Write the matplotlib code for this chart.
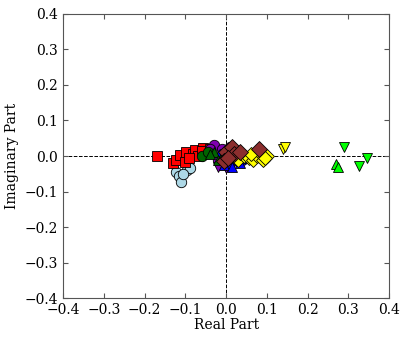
import matplotlib
matplotlib.use("Agg")
import matplotlib.pyplot as plt

plt.rcParams['font.family'] = ['DejaVu Serif']

# eigenvalue groups (real, imag)
lightblue_re = [-0.123, -0.115, -0.11, -0.096, -0.088, -0.105]
lightblue_im = [-0.045, -0.056, -0.073, -0.04, -0.034, -0.05]

red_re = [-0.17, -0.13, -0.123, -0.113, -0.10, -0.098, -0.08, -0.076, -0.069, -0.056, -0.05, -0.09, -0.06, -0.04]
red_im = [0.0, -0.02, -0.01, 0.003, -0.017, 0.011, 0.005, 0.017, 0.0, 0.023, 0.011, -0.005, 0.015, 0.02]

purple_re = [-0.03, -0.01, 0.0, -0.02, 0.01, -0.04]
purple_im = [0.03, 0.02, 0.01, -0.01, 0.025, 0.02]
purple_tri_re = [-0.02, -0.01, 0.0]
purple_tri_im = [-0.03, -0.02, -0.035]

blue_re = [0.0, 0.01, 0.02, 0.03, 0.04, 0.05, -0.01, 0.02]
blue_im = [-0.01, -0.02, 0.0, -0.015, -0.01, -0.005, 0.005, 0.015]
blue_tri_re = [-0.005, 0.015, 0.035]
blue_tri_im = [-0.025, -0.03, -0.02]

dkgreen_re = [-0.06, -0.045]
dkgreen_im = [0.0, 0.01]
dkgreen_tri_re = [-0.03, -0.02, -0.04, -0.01]
dkgreen_tri_im = [0.01, -0.01, 0.005, 0.0]

brown_re = [0.0, 0.015, -0.005, 0.02, 0.08, 0.035, 0.005]
brown_im = [0.01, 0.025, -0.015, 0.005, 0.02, 0.01, -0.005]

yellow_re = [0.03, 0.045, 0.055, 0.065, 0.075, 0.085, 0.09, 0.1, 0.095, 0.06]
yellow_im = [-0.01, 0.0, -0.005, -0.01, 0.0, 0.005, -0.01, 0.0, -0.005, 0.005]
yellow_tri_re = [0.14, 0.145]
yellow_tri_im = [0.02, 0.025]

lime_up_re = [0.27, 0.275]
lime_up_im = [-0.022, -0.03]
lime_dn_re = [0.29, 0.345, 0.326]
lime_dn_im = [0.025, -0.006, -0.028]

fig = plt.figure(figsize=(4.07, 3.49), dpi=100)
ax = fig.add_axes([0.155, 0.146, 0.801, 0.814])

ax.axhline(0, color='k', ls='--', lw=0.7, zorder=0)
ax.axvline(0, color='k', ls='--', lw=0.7, zorder=0)

kw = dict(ls='none', mec='k', mew=0.6)
ax.plot(lightblue_re, lightblue_im, 'o', color='#add8e6', ms=7.5, **kw)
ax.plot(red_re, red_im, 's', color='#ff0000', ms=7.5, **kw)
ax.plot(purple_re, purple_im, 'o', color='#8000b0', ms=7.5, **kw)
ax.plot(purple_tri_re, purple_tri_im, 'v', color='#8000b0', ms=7.5, **kw)
ax.plot(blue_re, blue_im, 'o', color='#0000ff', ms=7.5, **kw)
ax.plot(blue_tri_re, blue_tri_im, '^', color='#0000ff', ms=7.5, **kw)
ax.plot(dkgreen_re, dkgreen_im, 'o', color='#006400', ms=7.5, **kw)
ax.plot(dkgreen_tri_re, dkgreen_tri_im, '^', color='#006400', ms=7.5, **kw)
ax.plot(yellow_re, yellow_im, 'D', color='#ffff00', ms=7.5, **kw)
ax.plot(brown_re, brown_im, 'D', color='#8b2e2e', ms=8.5, **kw)
ax.plot(yellow_tri_re, yellow_tri_im, 'v', color='#ffff00', ms=7.5, **kw)
ax.plot(lime_up_re, lime_up_im, '^', color='#00ff00', ms=7.5, **kw)
ax.plot(lime_dn_re, lime_dn_im, 'v', color='#00ff00', ms=7.5, **kw)

ax.set_xlim(-0.4, 0.4)
ax.set_ylim(-0.4, 0.4)
ax.set_xticks([-0.4, -0.3, -0.2, -0.1, 0.0, 0.1, 0.2, 0.3, 0.4])
ax.set_yticks([-0.4, -0.3, -0.2, -0.1, 0.0, 0.1, 0.2, 0.3, 0.4])
for s in ax.spines.values():
    s.set_color('#555555')
ax.tick_params(direction='in', top=True, right=True, labelsize=10, color='#555555')
ax.set_xlabel('Real Part', fontsize=10, labelpad=1)
ax.set_ylabel('Imaginary Part', fontsize=10)

fig.savefig('out.png', dpi=100)
